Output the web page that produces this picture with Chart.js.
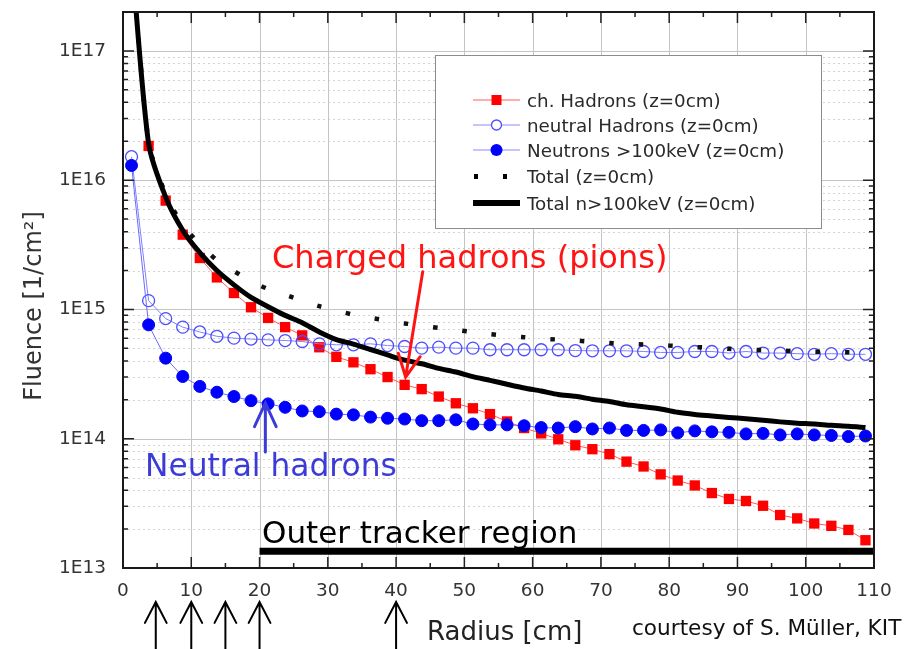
<!DOCTYPE html>
<html>
<head>
<meta charset="utf-8">
<script src="https://cdn.jsdelivr.net/npm/chart.js@4"></script>
<style>
  body { margin: 0; background: #fff; }
  #wrap { width: 906px; height: 649px; }
</style>
</head>
<body>
<div id="wrap"><canvas id="myChart" width="906" height="649"></canvas></div>
<script>
var radius = [1.25, 3.75, 6.25, 8.75, 11.25, 13.75, 16.25, 18.75, 21.25, 23.75, 26.25, 28.75, 31.25, 33.75, 36.25, 38.75,
  41.25, 43.75, 46.25, 48.75, 51.25, 53.75, 56.25, 58.75, 61.25, 63.75, 66.25, 68.75, 71.25, 73.75, 76.25, 78.75,
  81.25, 83.75, 86.25, 88.75, 91.25, 93.75, 96.25, 98.75, 101.25, 103.75, 106.25, 108.75];

var chHadrons = [null, 1.84e16, 6.95e15, 3.79e15, 2.5e15, 1.77e15, 1.34e15, 1.04e15, 8.6e14, 7.3e14, 6.3e14, 5.1e14, 4.3e14, 3.9e14, 3.45e14, 3.0e14,
  2.61e14, 2.42e14, 2.12e14, 1.88e14, 1.72e14, 1.55e14, 1.36e14, 1.21e14, 1.10e14, 9.9e13, 8.9e13, 8.3e13, 7.6e13, 6.65e13, 6.1e13, 5.3e13,
  4.75e13, 4.35e13, 3.8e13, 3.42e13, 3.3e13, 3.03e13, 2.57e13, 2.42e13, 2.21e13, 2.12e13, 1.97e13, 1.64e13];

var neutralHadrons = [1.52e16, 1.17e15, 8.5e14, 7.3e14, 6.7e14, 6.2e14, 6.0e14, 5.9e14, 5.82e14, 5.75e14, 5.65e14, 5.42e14, 5.33e14, 5.33e14, 5.42e14, 5.26e14,
  5.17e14, 5.02e14, 5.11e14, 5.02e14, 5.02e14, 4.88e14, 4.88e14, 4.88e14, 4.88e14, 4.88e14, 4.81e14, 4.79e14, 4.79e14, 4.79e14, 4.73e14, 4.65e14,
  4.65e14, 4.73e14, 4.73e14, 4.6e14, 4.73e14, 4.6e14, 4.6e14, 4.55e14, 4.5e14, 4.55e14, 4.5e14, 4.5e14];

var neutrons = [1.3e16, 7.6e14, 4.2e14, 3.03e14, 2.54e14, 2.29e14, 2.12e14, 1.97e14, 1.86e14, 1.75e14, 1.64e14, 1.62e14, 1.55e14, 1.53e14, 1.47e14, 1.44e14,
  1.42e14, 1.38e14, 1.38e14, 1.40e14, 1.30e14, 1.28e14, 1.28e14, 1.26e14, 1.22e14, 1.21e14, 1.24e14, 1.19e14, 1.21e14, 1.16e14, 1.16e14, 1.17e14,
  1.11e14, 1.15e14, 1.13e14, 1.12e14, 1.09e14, 1.10e14, 1.07e14, 1.09e14, 1.07e14, 1.06e14, 1.04e14, 1.05e14];

var totalAll = [6e17, 1.96e16, 7.8e15, 4.5e15, 3.2e15, 2.4e15, 1.98e15, 1.65e15, 1.44e15, 1.3e15, 1.17e15, 1.06e15, 9.8e14, 9.1e14, 8.6e14, 8.2e14,
  7.8e14, 7.5e14, 7.2e14, 6.95e14, 6.7e14, 6.45e14, 6.25e14, 6.1e14, 5.95e14, 5.85e14, 5.75e14, 5.62e14, 5.5e14, 5.42e14, 5.36e14, 5.3e14,
  5.2e14, 5.12e14, 5.05e14, 4.96e14, 4.88e14, 4.85e14, 4.8e14, 4.75e14, 4.72e14, 4.7e14, 4.67e14, 4.65e14];

var totalN = [5.5e17, 1.92e16, 7.4e15, 4.1e15, 2.75e15, 2.0e15, 1.55e15, 1.24e15, 1.05e15, 9.0e14, 7.9e14, 6.7e14, 5.85e14, 5.4e14, 4.9e14, 4.45e14,
  4.05e14, 3.8e14, 3.5e14, 3.28e14, 3.02e14, 2.83e14, 2.64e14, 2.47e14, 2.34e14, 2.2e14, 2.13e14, 2.02e14, 1.94e14, 1.83e14, 1.77e14, 1.7e14,
  1.6e14, 1.54e14, 1.5e14, 1.46e14, 1.43e14, 1.39e14, 1.35e14, 1.32e14, 1.3e14, 1.27e14, 1.25e14, 1.22e14];

var trackerX = [20, 110.2];
var trackerY = [1.35e13, 1.35e13];

var xTicks = [0, 10, 20, 30, 40, 50, 60, 70, 80, 90, 100, 110];
var yDecades = [1e13, 1e14, 1e15, 1e16, 1e17];
var arrowRadii = [4.8, 10, 15, 20, 40];

var legendNames = ["ch. Hadrons (z=0cm)", "neutral Hadrons (z=0cm)", "Neutrons >100keV (z=0cm)", "Total (z=0cm)", "Total n>100keV (z=0cm)"];

var FONT = "'DejaVu Sans', sans-serif";

function pts(ys) {
  var out = [];
  for (var i = 0; i < radius.length; i++) out.push({x: radius[i], y: ys[i]});
  return out;
}

function arrow(ctx, x0, y0, x1, y1, head, spread, color, width) {
  var ang = Math.atan2(y1 - y0, x1 - x0);
  ctx.save();
  ctx.strokeStyle = color;
  ctx.lineWidth = width;
  ctx.lineCap = "round";
  ctx.beginPath();
  ctx.moveTo(x0, y0);
  ctx.lineTo(x1, y1);
  ctx.moveTo(x1 - head * Math.cos(ang - spread), y1 - head * Math.sin(ang - spread));
  ctx.lineTo(x1, y1);
  ctx.lineTo(x1 - head * Math.cos(ang + spread), y1 - head * Math.sin(ang + spread));
  ctx.stroke();
  ctx.restore();
}

function text(ctx, s, x, y, size, color) {
  ctx.font = size + "px " + FONT;
  ctx.fillStyle = color;
  ctx.textAlign = "left";
  ctx.textBaseline = "alphabetic";
  ctx.fillText(s, x, y);
}

var overlay = {
  id: "overlay",
  beforeDatasetsDraw: function(chart) {
    var ctx = chart.ctx, a = chart.chartArea, xs = chart.scales.x, ys = chart.scales.y;
    ctx.save();
    ctx.lineWidth = 1;
    // minor horizontal grid (dotted)
    ctx.strokeStyle = "#d2d2d2";
    ctx.setLineDash([2, 3]);
    for (var d = 0; d < yDecades.length; d++) {
      for (var m = 2; m <= 9; m++) {
        var v = yDecades[d] * m;
        if (v > ys.max) continue;
        var py = Math.round(ys.getPixelForValue(v)) + 0.5;
        ctx.beginPath(); ctx.moveTo(a.left, py); ctx.lineTo(a.right, py); ctx.stroke();
      }
    }
    ctx.setLineDash([]);
    ctx.strokeStyle = "#c4c4c4";
    for (var i = 0; i < yDecades.length; i++) {
      var gy = Math.round(ys.getPixelForValue(yDecades[i])) + 0.5;
      ctx.beginPath(); ctx.moveTo(a.left, gy); ctx.lineTo(a.right, gy); ctx.stroke();
    }
    for (var j = 1; j < xTicks.length - 1; j++) {
      var gx = Math.round(xs.getPixelForValue(xTicks[j])) + 0.5;
      ctx.beginPath(); ctx.moveTo(gx, a.top); ctx.lineTo(gx, a.bottom); ctx.stroke();
    }
    ctx.restore();
  },
  afterDatasetsDraw: function(chart) {
    var ctx = chart.ctx, a = chart.chartArea, xs = chart.scales.x, ys = chart.scales.y;
    ctx.save();

    // tick marks
    ctx.strokeStyle = "#222";
    ctx.lineWidth = 1.5;
    for (var r = 5; r < 110; r += 5) {
      var tx = xs.getPixelForValue(r);
      var len = (r % 10 === 0) ? 11 : 5;
      ctx.beginPath();
      ctx.moveTo(tx, a.bottom); ctx.lineTo(tx, a.bottom - len);
      ctx.moveTo(tx, a.top); ctx.lineTo(tx, a.top + len);
      ctx.stroke();
    }
    for (var d = 0; d < yDecades.length; d++) {
      for (var m = 1; m <= 9; m++) {
        var v = yDecades[d] * m;
        if (v > ys.max) continue;
        var ty = ys.getPixelForValue(v);
        var l = (m === 1) ? 11 : 5;
        ctx.beginPath();
        ctx.moveTo(a.left, ty); ctx.lineTo(a.left + l, ty);
        ctx.moveTo(a.right, ty); ctx.lineTo(a.right - l, ty);
        ctx.stroke();
      }
    }

    // frame
    ctx.lineWidth = 2;
    ctx.strokeStyle = "#1a1a1a";
    ctx.strokeRect(a.left, a.top, a.right - a.left, a.bottom - a.top);

    // legend
    var lx = 435, ly = 55, lw = 386, lh = 173;
    ctx.fillStyle = "#fff";
    ctx.fillRect(lx, ly, lw, lh);
    ctx.lineWidth = 1;
    ctx.strokeStyle = "#8c8c8c";
    ctx.strokeRect(lx + 0.5, ly + 0.5, lw, lh);
    var rows = [100, 125, 150, 176.5, 203];
    var sx0 = 473, sx1 = 520, mx = 496.5;
    ctx.lineWidth = 1;
    ctx.strokeStyle = "#ff5a5a";
    ctx.beginPath(); ctx.moveTo(sx0, rows[0]); ctx.lineTo(sx1, rows[0]); ctx.stroke();
    ctx.fillStyle = "#ff0000";
    ctx.fillRect(mx - 5, rows[0] - 5, 10, 10);
    ctx.strokeStyle = "#8a8aff";
    ctx.beginPath(); ctx.moveTo(sx0, rows[1]); ctx.lineTo(sx1, rows[1]); ctx.stroke();
    ctx.beginPath(); ctx.moveTo(sx0, rows[2]); ctx.lineTo(sx1, rows[2]); ctx.stroke();
    ctx.fillStyle = "#fff";
    ctx.beginPath(); ctx.arc(mx, rows[1], 5, 0, Math.PI * 2); ctx.fill();
    ctx.strokeStyle = "#4d4dff";
    ctx.lineWidth = 1.3;
    ctx.stroke();
    ctx.fillStyle = "#0000ff";
    ctx.beginPath(); ctx.arc(mx, rows[2], 6, 0, Math.PI * 2); ctx.fill();
    ctx.fillStyle = "#000";
    ctx.fillRect(474, rows[3] - 2.5, 4, 5);
    ctx.fillRect(503, rows[3] - 2.5, 4, 5);
    ctx.lineWidth = 6;
    ctx.strokeStyle = "#000";
    ctx.beginPath(); ctx.moveTo(sx0, rows[4]); ctx.lineTo(sx1, rows[4]); ctx.stroke();
    for (var k = 0; k < legendNames.length; k++) {
      text(ctx, legendNames[k], 527, rows[k] + 6.5, 18.3, "#2a2a2a");
    }

    // annotations
    text(ctx, "Charged hadrons (pions)", 272, 268, 32, "#ff1414");
    arrow(ctx, xs.getPixelForValue(43.9), ys.getPixelForValue(1.96e15),
      xs.getPixelForValue(41.4), ys.getPixelForValue(3.0e14), 25, 0.46, "#ff1414", 3);

    text(ctx, "Neutral hadrons", 145, 476, 31.3, "#3b3bd8");
    arrow(ctx, xs.getPixelForValue(20.85), ys.getPixelForValue(7.9e13),
      xs.getPixelForValue(20.85), ys.getPixelForValue(1.89e14), 26, 0.43, "#3b3bd8", 3);

    text(ctx, "Outer tracker region", 262, 543, 31, "#000");

    // axis titles and credit
    text(ctx, "Radius [cm]", 427, 640, 26, "#222");
    text(ctx, "courtesy of S. M\u00fcller, KIT", 632, 635, 21.6, "#111");
    ctx.save();
    ctx.translate(41, 306);
    ctx.rotate(-Math.PI / 2);
    ctx.font = "24px " + FONT;
    ctx.fillStyle = "#333";
    ctx.textAlign = "center";
    ctx.textBaseline = "alphabetic";
    ctx.fillText("Fluence [1/cm\u00b2]", 0, 0);
    ctx.restore();

    // layer arrows below the x axis
    for (var q = 0; q < arrowRadii.length; q++) {
      var ax = xs.getPixelForValue(arrowRadii[q]);
      arrow(ctx, ax, 649, ax, 602, 23.5, 0.48, "#000", 2);
    }
    ctx.restore();
  }
};

Chart.defaults.font.family = FONT;

new Chart("myChart", {
  type: "line",
  data: {
    datasets: [
      {
        label: legendNames[4],
        data: pts(totalN),
        borderColor: "#000",
        borderWidth: 5,
        pointRadius: 0,
        tension: 0.25,
        order: 0
      },
      {
        label: legendNames[3],
        data: pts(totalAll),
        borderColor: "#111",
        borderWidth: 4.5,
        borderDash: [4.5, 25],
        borderCapStyle: "butt",
        pointRadius: 0,
        tension: 0.25,
        order: 1
      },
      {
        label: legendNames[2],
        data: pts(neutrons),
        borderColor: "#6a6aff",
        borderWidth: 1,
        pointRadius: 6,
        pointBackgroundColor: "#0000ff",
        pointBorderColor: "#0000f0",
        pointBorderWidth: 1,
        order: 2
      },
      {
        label: legendNames[1],
        data: pts(neutralHadrons),
        borderColor: "#8080ff",
        borderWidth: 1,
        pointRadius: 6,
        pointBackgroundColor: "rgba(255,255,255,0)",
        pointBorderColor: "#4d4dff",
        pointBorderWidth: 1.3,
        order: 3
      },
      {
        label: legendNames[0],
        data: pts(chHadrons),
        borderColor: "#ff5a5a",
        borderWidth: 1,
        pointStyle: "rect",
        pointRadius: 7.3,
        pointBackgroundColor: "#ff0000",
        pointBorderColor: "#ff0000",
        pointBorderWidth: 0,
        order: 4
      },
      {
        label: "Outer tracker region",
        data: [{x: trackerX[0], y: trackerY[0]}, {x: trackerX[1], y: trackerY[1]}],
        borderColor: "#000",
        borderWidth: 7,
        borderCapStyle: "butt",
        pointRadius: 0,
        order: 5
      }
    ]
  },
  options: {
    responsive: false,
    animation: false,
    events: [],
    layout: { padding: { left: 0, top: 12, right: 32, bottom: 0 } },
    plugins: {
      legend: { display: false },
      tooltip: { enabled: false }
    },
    scales: {
      x: {
        type: "linear",
        min: 0,
        max: 110,
        grid: { display: false },
        border: { display: false },
        afterFit: function(s) {
          s.height = 81;
          s.paddingLeft = 0;
          s.paddingRight = 0;
        },
        afterBuildTicks: function(s) {
          s.ticks = xTicks.map(function(v) { return {value: v}; });
        },
        ticks: {
          autoSkip: false,
          maxRotation: 0,
          padding: 4,
          color: "#333",
          font: { size: 18.5 }
        }
      },
      y: {
        type: "logarithmic",
        min: 1e13,
        max: 2e17,
        grid: { display: false },
        border: { display: false },
        afterFit: function(s) {
          s.width = 123;
          s.paddingTop = 0;
          s.paddingBottom = 0;
        },
        afterBuildTicks: function(s) {
          var t = [];
          for (var d = 0; d < yDecades.length; d++) {
            for (var m = 1; m <= 9; m++) {
              var v = yDecades[d] * m;
              if (v <= 2e17) t.push({value: v});
            }
          }
          s.ticks = t;
        },
        ticks: {
          autoSkip: false,
          padding: 9,
          color: "#333",
          font: { size: 18.5 },
          callback: function(v) {
            var l = Math.log10(v);
            return Math.abs(l - Math.round(l)) < 1e-6 ? "1E" + Math.round(l) : "";
          }
        }
      }
    }
  },
  plugins: [overlay]
});
</script>
</body>
</html>
